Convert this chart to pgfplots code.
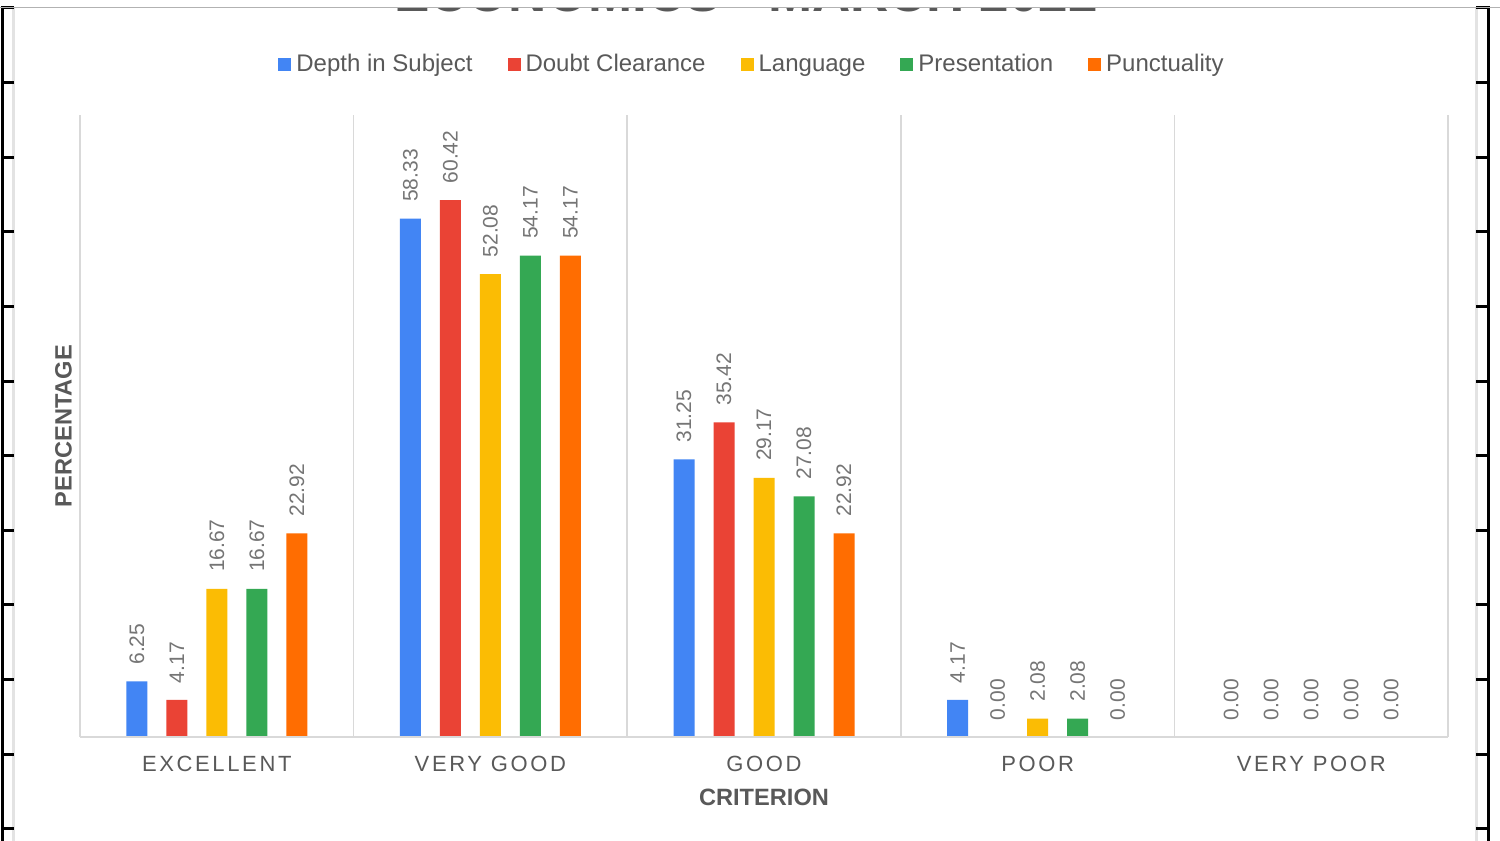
\documentclass[border=0pt]{standalone}
\usepackage{fontspec}
\setmainfont{Liberation Sans}
\newfontfamily\spacedfont[LetterSpace=12]{Liberation Sans}
\usepackage{pgfplots}
\pgfplotsset{compat=1.18}

\definecolor{cBlue}{HTML}{4285F4}
\definecolor{cRed}{HTML}{EA4335}
\definecolor{cYellow}{HTML}{FBBC04}
\definecolor{cGreen}{HTML}{34A853}
\definecolor{cOrange}{HTML}{FF6D01}
\definecolor{txt}{HTML}{595959}
\definecolor{lbl}{HTML}{757575}
\definecolor{gridc}{HTML}{D9D9D9}
\definecolor{edgec}{HTML}{E3E3E3}

\begin{document}
\begin{tikzpicture}
\useasboundingbox (0,0) rectangle (750pt,420.5pt);
\fill[white] (0,0) rectangle (750pt,420.5pt);

% page frame round the chart
\draw[edgec, line width=1.5pt] (6.75pt,0) -- (6.75pt,416.85pt);
\draw[edgec, line width=1.5pt] (738.25pt,0) -- (738.25pt,416.85pt);
\draw[black, line width=1.5pt] (1.25pt,0) -- (1.25pt,416.5pt);
\draw[black, line width=1.5pt] (744.25pt,0) -- (744.25pt,416.5pt);
\foreach \i in {0,...,11} {
  \pgfmathsetmacro\yy{(841-8-74.62*\i)*0.5}
  \draw[black, line width=1.5pt] (0.5pt,\yy pt) -- (7pt,\yy pt);
  \draw[black, line width=1.5pt] (738pt,\yy pt) -- (745pt,\yy pt);
}

% title, cut off at the top
\begin{scope}
\clip (0,0) rectangle (750pt,416.85pt);
\node[anchor=base, inner sep=0pt, text=txt, font=\fontsize{26.5pt}{30pt}\selectfont\bfseries]
  at (373pt,414.6pt) {ECONOMICS - MARCH 2022};
\end{scope}
\draw[black!30, line width=0.6pt] (0,416.85pt) -- (750pt,416.85pt);

\begin{axis}[
  at={(40pt,52pt)}, anchor=south west,
  width=684pt, height=311pt, scale only axis,
  ybar=9.5pt, bar width=10.5pt,
  xmin=-0.5, xmax=4.5, ymin=0, ymax=70,
  clip=false,
  axis line style={draw=none},
  xtick={0,...,4},
  xticklabels={EXCELLENT,VERY GOOD,GOOD,POOR,VERY POOR},
  ytick=\empty,
  major tick length=0pt, minor tick length=0pt,
  minor xtick={-0.5,0.5,...,4.5},
  xminorgrids=true,
  minor grid style={gridc, line width=0.75pt},
  xticklabel style={font=\spacedfont\fontsize{11pt}{13pt}\selectfont, text=txt, anchor=base, yshift=-17.4pt},
  xlabel={CRITERION},
  xlabel style={at={(axis description cs:0.5,-0.1101)}, anchor=base, font=\fontsize{11.8pt}{14pt}\selectfont\bfseries, text=txt},
  ylabel={PERCENTAGE},
  ylabel style={at={(axis description cs:-0.00621,0.5)}, anchor=base, font=\fontsize{11.8pt}{14pt}\selectfont\bfseries, text=txt},
  nodes near coords,
  nodes near coords style={rotate=90, anchor=west, inner xsep=8.25pt, inner ysep=0pt, font=\fontsize{10.5pt}{12pt}\selectfont, text=lbl},
  /pgf/number format/fixed,
  /pgf/number format/fixed zerofill,
  /pgf/number format/precision=2,
  /pgf/number format/assume math mode=true,
  legend columns=-1,
  legend style={at={(axis description cs:0.4905,1.0797)}, anchor=center, draw=none, fill=none,
    font=\fontsize{12pt}{14pt}\selectfont, text=txt,
    nodes={inner sep=0pt, text height=8.8pt, text depth=2.6pt},
    /tikz/every even column/.append style={column sep=17.5pt}},
  legend image code/.code={\fill[#1, draw=none] (0pt,-2.95pt) rectangle (6.5pt,3.55pt); \path (9pt,0pt);},
]
\addplot[fill=cBlue, draw=none] coordinates {(0,6.25) (1,58.33) (2,31.25) (3,4.17) (4,0)};
\addplot[fill=cRed, draw=none] coordinates {(0,4.17) (1,60.42) (2,35.42) (3,0) (4,0)};
\addplot[fill=cYellow, draw=none] coordinates {(0,16.67) (1,52.08) (2,29.17) (3,2.08) (4,0)};
\addplot[fill=cGreen, draw=none] coordinates {(0,16.67) (1,54.17) (2,27.08) (3,2.08) (4,0)};
\addplot[fill=cOrange, draw=none] coordinates {(0,22.92) (1,54.17) (2,22.92) (3,0) (4,0)};
\legend{Depth in Subject, Doubt Clearance, Language, Presentation, Punctuality}
\draw[gridc, line width=0.75pt] (rel axis cs:0,0) -- (rel axis cs:1,0);
\end{axis}
\end{tikzpicture}
\end{document}
